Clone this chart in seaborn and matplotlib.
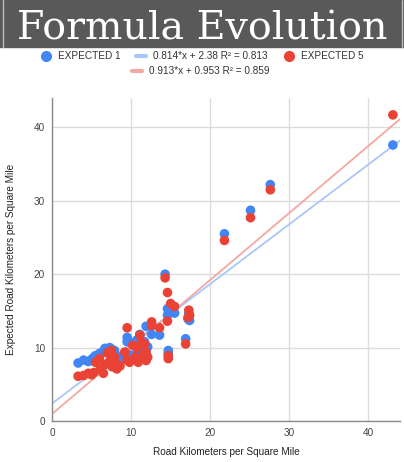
import numpy as np
import pandas as pd
import matplotlib
matplotlib.use("Agg")
import matplotlib.pyplot as plt
import seaborn as sns
from matplotlib.lines import Line2D
from matplotlib.patches import Rectangle

# ---------------- data ----------------
title = "Formula Evolution"
x_label = "Road Kilometers per Square Mile"
y_label = "Expected Road Kilometers per Square Mile"
series_names = ["EXPECTED 1", "EXPECTED 5"]

road_km = [3.3, 4.0, 4.6, 5.0, 5.3, 5.5, 6.0, 6.1, 6.5, 6.7,
           7.0, 7.3, 7.5, 7.6, 7.9, 8.0, 8.2, 8.6, 9.2, 9.5,
           9.5, 9.8, 10.2, 10.5, 10.7, 10.9, 11.1, 11.3, 11.5, 11.7,
           11.9, 11.9, 12.1, 12.6, 12.6, 13.6, 14.3, 14.6, 14.6, 14.7,
           14.7, 15.0, 15.5, 16.9, 17.2, 17.3, 17.4, 21.8, 25.1, 27.6,
           43.1]
expected_1 = [7.9, 8.3, 8.1, 8.4, 8.7, 8.9, 9.2, 9.0, 9.5, 9.9,
              9.6, 10.0, 9.8, 9.2, 9.6, 9.0, 8.8, 8.7, 8.5, 11.4,
              10.8, 9.0, 10.6, 9.0, 11.0, 9.2, 11.8, 10.2, 9.6, 10.8,
              12.9, 9.0, 10.1, 13.0, 11.8, 11.7, 20.0, 15.3, 14.4, 9.6,
              9.2, 15.0, 14.7, 11.2, 13.9, 14.7, 13.7, 25.5, 28.7, 32.2,
              37.6]
expected_5 = [6.1, 6.2, 6.5, 6.3, 6.6, 8.0, 8.5, 7.1, 6.5, 7.7,
              9.3, 8.2, 9.6, 7.4, 8.7, 7.9, 7.1, 7.5, 9.4, 12.7,
              8.3, 8.0, 10.3, 8.7, 10.0, 8.0, 11.7, 10.75, 9.0, 10.5,
              9.4, 8.25, 8.7, 13.5, 13.0, 12.7, 19.5, 17.5, 13.6, 8.9,
              8.5, 16.0, 15.6, 10.5, 14.1, 15.1, 14.4, 24.6, 27.7, 31.5,
              41.7]

trend_slopes = [0.814, 0.913]
trend_intercepts = [2.38, 0.953]
trend_r2 = [0.813, 0.859]
trend_labels = ["0.814*x + 2.38 R\u00b2 = 0.813", "0.913*x + 0.953 R\u00b2 = 0.859"]

x_ticks = [0, 10, 20, 30, 40]
y_ticks = [0, 10, 20, 30, 40]
x_limits = [0, 44]
y_limits = [0, 44]

point_colors = ["#4285F4", "#EA4335"]
trend_colors = ["#a9c7f9", "#f5a7a1"]

# ---------------- figure ----------------
sns.set_style("white")
plt.rcParams["font.family"] = ["Liberation Sans", "DejaVu Sans"]

W, H = 404, 462
fig = plt.figure(figsize=(W / 100, H / 100), dpi=100)
ax = fig.add_axes([52 / W, 1 - 421 / H, 348 / W, 323 / H])

points = pd.DataFrame({
    "x": road_km * 2,
    "y": expected_1 + expected_5,
    "series": [series_names[0]] * len(road_km) + [series_names[1]] * len(road_km),
})

# trend lines (from their equations), drawn under the points
x_span = np.array(x_limits, dtype=float)
for k in range(2):
    tdf = pd.DataFrame({"x": x_span, "y": trend_slopes[k] * x_span + trend_intercepts[k]})
    sns.lineplot(data=tdf, x="x", y="y", ax=ax, color=trend_colors[k], lw=1.3,
                 zorder=2, legend=False)

sns.scatterplot(data=points, x="x", y="y", hue="series",
                palette=dict(zip(series_names, point_colors)),
                s=48, linewidth=0, alpha=1, ax=ax, zorder=3, legend=False)

ax.set_xlim(*x_limits)
ax.set_ylim(*y_limits)
ax.set_xticks(x_ticks)
ax.set_yticks(y_ticks)
ax.grid(True, color="#dcdcdc", lw=1.0, zorder=0)
ax.set_axisbelow(True)
for s in ["top", "right"]:
    ax.spines[s].set_visible(False)
for s in ["left", "bottom"]:
    ax.spines[s].set_color("#8a8a8a")
    ax.spines[s].set_linewidth(1.0)
ax.tick_params(length=0, labelsize=7.2, colors="#444444", pad=5)
ax.set_xlabel(x_label, fontsize=7.2, color="#222222", va="center")
ax.set_ylabel(y_label, fontsize=7.2, color="#222222", va="center")
ax.xaxis.set_label_coords(0.5, (421 - 452) / 323)
ax.yaxis.set_label_coords((11 - 52) / 348, 0.5)

# ---------------- banner title ----------------
banner_h = 47 / H
fig.patches.append(Rectangle((0, 1 - banner_h), 1, banner_h, transform=fig.transFigure,
                             color="#595959", zorder=0))
for xp in [2.5 / W, 401.5 / W]:
    fig.add_artist(Line2D([xp, xp], [1 - banner_h, 1], transform=fig.transFigure,
                          color="#bdbdbd", lw=1.0))
t = fig.text(0.5, 1 - 39 / H, title, ha="center", va="baseline", color="white",
             family="DejaVu Serif", fontsize=28)
fig.canvas.draw()
bb = t.get_window_extent(renderer=fig.canvas.get_renderer())
t.set_fontsize(28 * 370 / bb.width)

# ---------------- legend ----------------
h_dot1 = Line2D([], [], marker="o", ls="", color=point_colors[0], markersize=7)
h_tr1 = Line2D([], [], color=trend_colors[0], lw=3)
h_dot5 = Line2D([], [], marker="o", ls="", color=point_colors[1], markersize=7)
h_tr5 = Line2D([], [], color=trend_colors[1], lw=3)

leg_kw = dict(frameon=False, fontsize=7.2, handlelength=1.0, handletextpad=0.7,
              columnspacing=1.6, borderpad=0, labelcolor="#333333")
leg1 = fig.legend([h_dot1, h_tr1, h_dot5], [series_names[0], trend_labels[0], series_names[1]],
                  loc="center", bbox_to_anchor=(202 / W, 1 - 56 / H), ncol=3, **leg_kw)
leg2 = fig.legend([h_tr5], [trend_labels[1]], loc="center",
                  bbox_to_anchor=(201 / W, 1 - 71.5 / H), ncol=1, **leg_kw)

fig.savefig("out.png", dpi=100)
